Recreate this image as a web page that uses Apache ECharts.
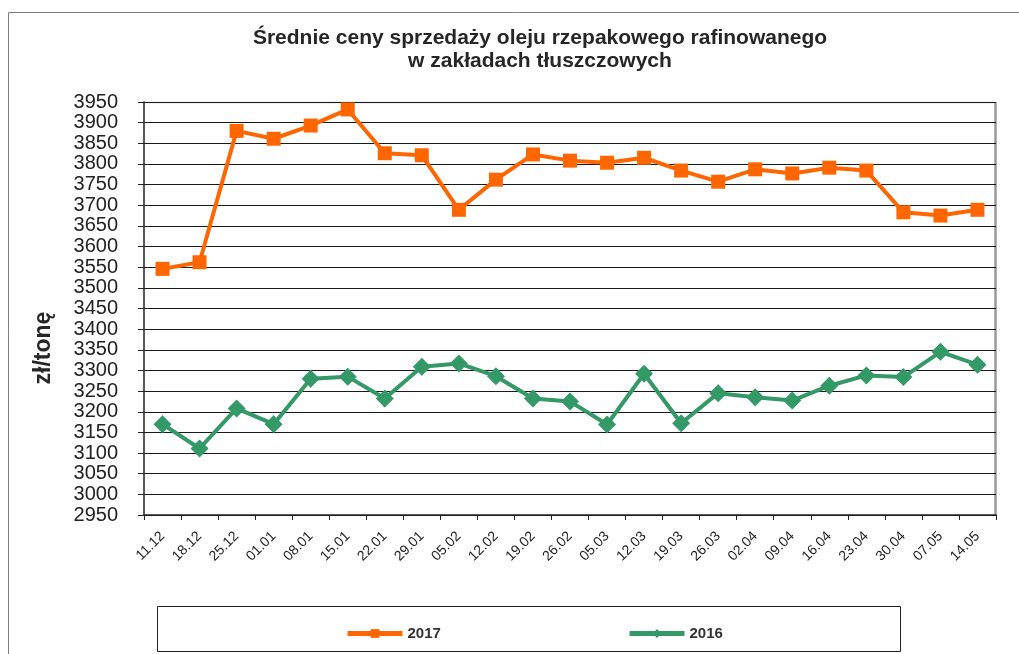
<!DOCTYPE html>
<html>
<head>
<meta charset="utf-8">
<script src="https://cdn.jsdelivr.net/npm/echarts@6/dist/echarts.min.js"></script>
<style>
html,body{margin:0;padding:0;background:#fff;}
#main{width:1019px;height:654px;}
</style>
</head>
<body>
<div id="main"></div>
<script>
const categories = ['11.12','18.12','25.12','01.01','08.01','15.01','22.01','29.01','05.02','12.02','19.02','26.02','05.03','12.03','19.03','26.03','02.04','09.04','16.04','23.04','30.04','07.05','14.05'];
const values2017 = [3546,3562,3880,3861,3893,3932,3826,3821,3689,3762,3823,3808,3803,3815,3784,3757,3787,3777,3791,3784,3683,3675,3689];
const values2016 = [3170,3111,3208,3170,3280,3285,3232,3309,3317,3286,3232,3225,3169,3292,3172,3245,3235,3227,3263,3288,3284,3345,3314];
const seriesNames = ['2017','2016'];
const titleText = 'Średnie ceny sprzedaży oleju rzepakowego rafinowanego\nw zakładach tłuszczowych';
const yAxisName = 'zł/tonę';

const chart = echarts.init(document.getElementById('main'), null, {renderer:'canvas'});
const font = 'Liberation Sans, Arial, sans-serif';
const legendText = {fontFamily:font,fontSize:15,fontWeight:'bold',color:'#333'};
chart.setOption({
  animation:false,
  backgroundColor:'#fff',
  textStyle:{fontFamily:font},
  title:{
    text:titleText,
    left:535, top:22, textAlign:'center',
    textStyle:{fontFamily:font,fontSize:21,fontWeight:'bold',color:'#262626',lineHeight:23}
  },
  grid:{left:144,right:23,top:102,bottom:139,show:true,borderColor:'#b0b0b0',borderWidth:0},
  xAxis:{
    type:'category',
    data:categories,
    boundaryGap:true,
    axisLine:{lineStyle:{color:'#222',width:1.5}},
    axisTick:{show:true,length:5,lineStyle:{color:'#222'}},
    axisLabel:{rotate:45,fontSize:14,color:'#222',margin:19,fontFamily:font,interval:0}
  },
  yAxis:{
    type:'value',
    min:2950,max:3950,interval:50,
    axisLine:{show:true,lineStyle:{color:'#222',width:1.5}},
    axisTick:{show:true,length:6,lineStyle:{color:'#222'}},
    axisLabel:{fontSize:20,color:'#222',margin:26,fontFamily:font,formatter:function(v){return String(v);}},
    splitLine:{lineStyle:{color:'#1a1a1a',width:1}}
  },
  legend:[
    {data:[seriesNames[0]],left:340,top:621,itemWidth:55,itemHeight:11,itemGap:5,
     lineStyle:{width:5},textStyle:legendText},
    {data:[seriesNames[1]],left:622,top:621,itemWidth:55,itemHeight:11,itemGap:5,
     lineStyle:{width:5},textStyle:legendText}
  ],
  series:[
    {name:seriesNames[0],type:'line',data:values2017,symbol:'rect',symbolSize:14,
     lineStyle:{color:'#FF6600',width:4},itemStyle:{color:'#FF6600'}},
    {name:seriesNames[1],type:'line',data:values2016,symbol:'diamond',symbolSize:18,
     lineStyle:{color:'#339966',width:4},itemStyle:{color:'#339966'}}
  ],
  graphic:[
    {type:'rect',shape:{x:8.5,y:12.5,width:1030,height:660},style:{fill:null,stroke:'#808080',lineWidth:1},silent:true,z:-1},
    {type:'rect',shape:{x:144,y:102.5,width:851,height:0},style:{fill:null,stroke:'#c8c8c8',lineWidth:1.5},silent:true},
    {type:'line',shape:{x1:995.5,y1:102,x2:995.5,y2:516},style:{stroke:'#999',lineWidth:2.5},silent:true},
    {type:'rect',shape:{x:157.5,y:606.5,width:743,height:45},style:{fill:null,stroke:'#222',lineWidth:1},silent:true},
    {type:'text',x:44,y:348,rotation:Math.PI/2,style:{text:yAxisName,font:'bold 23px Liberation Sans, Arial, sans-serif',fill:'#262626',align:'center',verticalAlign:'middle'}}
  ]
});
</script>
</body>
</html>
